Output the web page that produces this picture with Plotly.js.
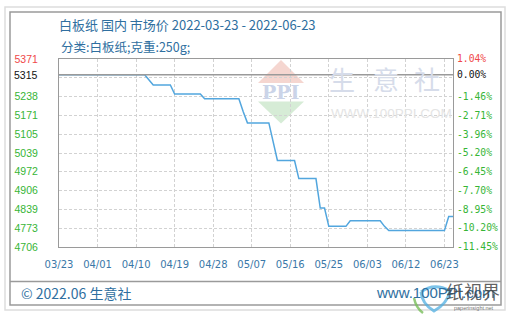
<!DOCTYPE html>
<html>
<head>
<meta charset="utf-8">
<script src="https://cdn.plot.ly/plotly-3.0.1.min.js"></script>
<style>
  html, body { margin: 0; padding: 0; background: #ffffff; }
  #chart { width: 513px; height: 314px; }
</style>
</head>
<body>
<div id="chart"></div>
<script>
// 白板纸 国内市场价（元/吨），2022-03-23 至 2022-06-23
const priceDates = [
  '2022-03-23', '2022-04-12', '2022-04-14', '2022-04-18', '2022-04-19',
  '2022-04-25', '2022-04-26', '2022-05-04', '2022-05-05', '2022-05-06',
  '2022-05-11', '2022-05-12', '2022-05-13', '2022-05-17', '2022-05-18',
  '2022-05-22', '2022-05-23', '2022-05-24', '2022-05-25', '2022-05-29',
  '2022-05-30', '2022-06-06', '2022-06-07', '2022-06-08', '2022-06-21',
  '2022-06-22', '2022-06-23'
];
const priceValues = [
  5315, 5315, 5279, 5279, 5247,
  5247, 5230, 5230, 5185, 5145,
  5145, 5080, 5012, 5012, 4948,
  4948, 4844, 4844, 4779, 4779,
  4799, 4799, 4779, 4764, 4764,
  4814, 4814
];

// 基准价（起始日价格）
const basePrice = 5315;
const yMin = 4706;
const yMax = 5371;

// x 轴刻度
const xTickDates = [
  '2022-03-23', '2022-04-01', '2022-04-10', '2022-04-19', '2022-04-28',
  '2022-05-07', '2022-05-16', '2022-05-25', '2022-06-03', '2022-06-12', '2022-06-21'
];
const xTickLabels = [
  '03/23', '04/01', '04/10', '04/19', '04/28',
  '05/07', '05/16', '05/25', '06/03', '06/12', '06/23'
];

// 左侧价格刻度（自下而上）
const leftTickLabels = ['4706', '4773', '4839', '4906', '4972', '5039', '5105', '5171', '5238', '', '5371'];
// 右侧涨跌幅刻度（自下而上）
const rightTickValues = [4706, 4773, 4839, 4906, 4972, 5039, 5105, 5171, 5238, 5315, 5371];
const rightTickLabels = ['-11.45%', '-10.20%', '-8.95%', '-7.70%', '-6.45%', '-5.20%', '-3.96%', '-2.71%', '-1.46%', '0.00%', '1.04%'];

const UP = '#f04848', FLAT = '#111111', DOWN = '#36b536';
const BLUE_TEXT = '#2f6fa0';

function colorFor(label) {
  if (label.startsWith('-')) return DOWN;
  if (label === '0.00%') return FLAT;
  return UP;
}

// 网格线按量程十等分
const gridValues = Array.from({length: 11}, (_, i) => yMin + i * (yMax - yMin) / 10);
const leftText = leftTickLabels.map((t, i) =>
  t === '' ? '' : '<span style="color:' + (i === leftTickLabels.length - 1 ? UP : DOWN) + '">' + t + '</span>');
const rightText = rightTickLabels.map(t => '<span style="color:' + colorFor(t) + '">' + t + '</span>');

// 像素坐标换算为 paper 坐标（绘图区 59..453 × 59..247）
const PL = 59, PR = 453, PT = 59, PB = 247;
const px = v => (v - PL) / (PR - PL);
const py = v => (PB - v) / (PB - PT);

const traces = [
  {
    x: priceDates, y: priceValues, type: 'scatter', mode: 'lines',
    line: {color: '#52a6de', width: 1.5, shape: 'linear'},
    hoverinfo: 'skip', xaxis: 'x', yaxis: 'y'
  },
  {
    x: [priceDates[0], priceDates[priceDates.length - 1]], y: [basePrice, basePrice],
    type: 'scatter', mode: 'lines',
    line: {color: '#9a9a9a', width: 1.5},
    hoverinfo: 'skip', xaxis: 'x', yaxis: 'y2'
  }
];

const wmChars = ['生', '意', '社'];
const wmX = [342, 386, 427];

const annotations = [
  {
    text: '分类:白板纸;克重:250g;', xref: 'paper', yref: 'paper',
    x: px(59), y: py(46.5), xanchor: 'left', yanchor: 'middle', showarrow: false,
    font: {family: 'Noto Sans CJK SC', size: 12.5, color: BLUE_TEXT}
  },
  {
    text: '5315', xref: 'paper', yref: 'y', x: px(40), y: basePrice,
    xanchor: 'right', yanchor: 'middle', showarrow: false,
    font: {family: 'Liberation Sans', size: 10.5, color: FLAT}
  },
  // 水印
  {
    text: '<b>PPI</b>', xref: 'paper', yref: 'paper', x: px(281), y: py(92),
    xanchor: 'center', yanchor: 'middle', showarrow: false,
    font: {family: 'DejaVu Serif', size: 19, color: '#cbd4e8'}
  },
  ...wmChars.map((c, i) => ({
    text: c, xref: 'paper', yref: 'paper', x: px(wmX[i]), y: py(78),
    xanchor: 'center', yanchor: 'middle', showarrow: false,
    font: {family: 'Noto Sans CJK SC', size: 26, color: '#d6dcea'}
  })),
  {
    text: 'WWW.100PPI.COM', xref: 'paper', yref: 'paper', x: px(329), y: py(113),
    xanchor: 'left', yanchor: 'middle', showarrow: false,
    font: {family: 'Liberation Sans', size: 13.5, color: '#e4e4e4'}
  },
  // 页脚
  {
    text: '© 2022.06 生意社', xref: 'paper', yref: 'paper', x: px(19), y: py(292.5),
    xanchor: 'left', yanchor: 'middle', showarrow: false,
    font: {family: 'Noto Sans CJK SC', size: 14, color: BLUE_TEXT}
  },
  {
    text: 'www.100PPI.com', xref: 'paper', yref: 'paper', x: px(497), y: py(292.5),
    xanchor: 'right', yanchor: 'middle', showarrow: false,
    font: {family: 'Liberation Sans', size: 15, color: BLUE_TEXT}
  },
  {
    text: '纸视界', xref: 'paper', yref: 'paper', x: px(473), y: py(291),
    xanchor: 'center', yanchor: 'middle', showarrow: false,
    font: {family: 'Noto Sans CJK SC', size: 18, color: 'rgba(70,70,70,0.85)'}
  },
  {
    text: 'paperinsight.net', xref: 'paper', yref: 'paper', x: px(474), y: py(307.5),
    xanchor: 'center', yanchor: 'middle', showarrow: false,
    font: {family: 'Liberation Sans', size: 5.5, color: '#777777'}
  }
];

const shapes = [
  // 外框（浅）与内框（深）
  {type: 'rect', xref: 'paper', yref: 'paper', x0: px(5), x1: px(505), y0: py(310), y1: py(7),
   line: {color: '#dddddd', width: 1.5}, layer: 'below'},
  {type: 'rect', xref: 'paper', yref: 'paper', x0: px(10), x1: px(501), y0: py(305), y1: py(12),
   line: {color: '#9a9a9a', width: 1.5}, layer: 'below'},
  {type: 'line', xref: 'paper', yref: 'paper', x0: px(10), x1: px(501), y0: py(281.5), y1: py(281.5),
   line: {color: '#9a9a9a', width: 1.5}},
  // PPI 标志三角
  {type: 'path', xref: 'paper', yref: 'paper', layer: 'below',
   path: 'M ' + px(281) + ' ' + py(60) + ' L ' + px(304) + ' ' + py(83) + ' L ' + px(258) + ' ' + py(83) + ' Z',
   fillcolor: '#f5d6d0', line: {width: 0}},
  {type: 'path', xref: 'paper', yref: 'paper', layer: 'below',
   path: 'M ' + px(258) + ' ' + py(101.5) + ' L ' + px(304) + ' ' + py(101.5) + ' L ' + px(281) + ' ' + py(123.5) + ' Z',
   fillcolor: '#d6ecd6', line: {width: 0}},
  // 页脚右侧小标志
  {type: 'path', xref: 'paper', yref: 'paper',
   path: 'M ' + px(421) + ' ' + py(292) + ' Q ' + px(434) + ' ' + py(282) + ' ' + px(450) + ' ' + py(291) +
         ' Q ' + px(447) + ' ' + py(304) + ' ' + px(434) + ' ' + py(311) +
         ' Q ' + px(422) + ' ' + py(304) + ' ' + px(421) + ' ' + py(292),
   line: {color: 'rgba(80,175,225,0.75)', width: 3}},
  {type: 'path', xref: 'paper', yref: 'paper',
   path: 'M ' + px(414) + ' ' + py(298) + ' Q ' + px(416) + ' ' + py(308) + ' ' + px(423) + ' ' + py(313),
   line: {color: 'rgba(120,190,90,0.8)', width: 2.5}}
];

const layout = {
  width: 513, height: 314,
  margin: {l: PL, r: 513 - PR, t: PT, b: 314 - PB, pad: 0},
  paper_bgcolor: '#ffffff', plot_bgcolor: '#ffffff',
  showlegend: false,
  title: {
    text: '白板纸 国内 市场价 2022-03-23 - 2022-06-23',
    xref: 'container', yref: 'container',
    x: 59 / 513, xanchor: 'left', y: 1 - 25 / 314, yanchor: 'middle',
    font: {family: 'Noto Sans CJK SC', size: 13, color: BLUE_TEXT}
  },
  xaxis: {
    type: 'date', range: [priceDates[0], priceDates[priceDates.length - 1]],
    tickmode: 'array', tickvals: xTickDates, ticktext: xTickLabels,
    showgrid: true, gridcolor: '#d2d2d2', gridwidth: 1, griddash: '3px,2px',
    showline: true, mirror: true, linecolor: '#9a9a9a', linewidth: 1,
    zeroline: false, ticks: '', ticklabelstandoff: 8,
    tickfont: {family: 'DejaVu Sans', size: 10, color: '#3a78a8'},
    fixedrange: true
  },
  yaxis: {
    range: [yMin, yMax], tickmode: 'array', tickvals: gridValues, ticktext: leftText,
    showgrid: true, gridcolor: '#d2d2d2', gridwidth: 1, griddash: '3px,2px',
    showline: true, mirror: true, linecolor: '#9a9a9a', linewidth: 1,
    zeroline: false, ticks: '', ticklabelstandoff: 18,
    tickfont: {family: 'Liberation Sans', size: 10.5, color: DOWN},
    fixedrange: true
  },
  yaxis2: {
    overlaying: 'y', side: 'right', range: [yMin, yMax],
    tickmode: 'array', tickvals: rightTickValues, ticktext: rightText,
    showgrid: false, showline: false, zeroline: false, ticks: '', ticklabelstandoff: 3,
    tickfont: {family: 'DejaVu Sans Mono', size: 9.7, color: DOWN},
    fixedrange: true
  },
  annotations: annotations,
  shapes: shapes
};

Plotly.newPlot('chart', traces, layout, {displayModeBar: false, staticPlot: true});
</script>
</body>
</html>
